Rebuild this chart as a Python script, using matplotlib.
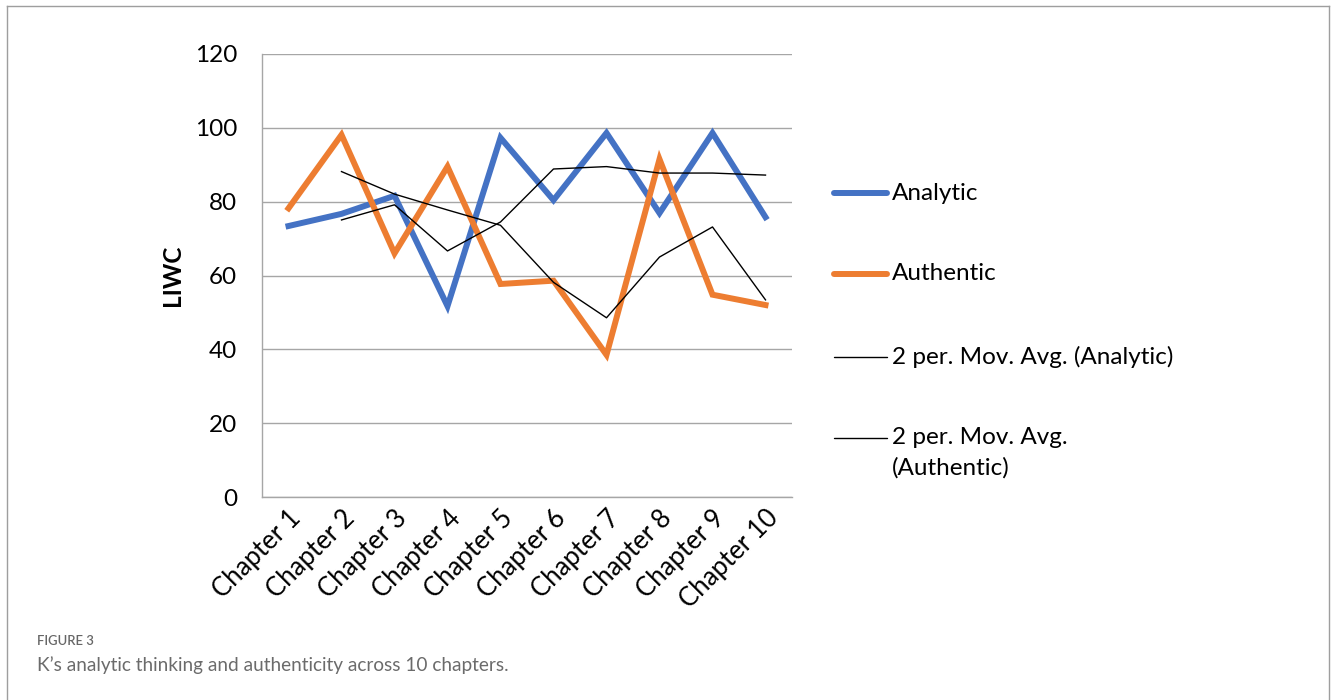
"""K's analytic thinking and authenticity across 10 chapters (LIWC)."""

import matplotlib

matplotlib.use("Agg")
import matplotlib.pyplot as plt
from matplotlib.lines import Line2D
import pandas as pd

chapters = [f"Chapter {i}" for i in range(1, 11)]
analytic = [73.4, 76.7, 81.6, 51.7, 97.3, 80.4, 98.6, 76.9, 98.6, 75.8]
authentic = [78.2, 98.1, 66.0, 89.5, 57.7, 58.6, 38.5, 91.5, 54.8, 52.0]
y_ticks = [0, 20, 40, 60, 80, 100, 120]

BLUE = "#4472C4"
ORANGE = "#ED7D31"
GRID = "#a6a6a6"
FONT = "Lato"
FS = 17.5

plt.rcParams["font.family"] = [FONT, "DejaVu Sans"]

# Excel-style 2-period moving averages
ma_analytic = pd.Series(analytic).rolling(2).mean()
ma_authentic = pd.Series(authentic).rolling(2).mean()

W, H = 1331, 700
fig = plt.figure(figsize=(W / 100, H / 100), dpi=100)
ax = fig.add_axes([262 / W, 1 - 497 / H, 530 / W, 443 / H])

x = list(range(len(chapters)))
ax.plot(x, analytic, color=BLUE, lw=4.3, solid_joinstyle="miter", zorder=3)
ax.plot(x, authentic, color=ORANGE, lw=4.3, solid_joinstyle="miter", zorder=3)
ax.plot(x, ma_analytic, color="black", lw=1.0, zorder=4)
ax.plot(x, ma_authentic, color="black", lw=1.0, zorder=4)

ax.set_xlim(-0.5, len(chapters) - 0.5)
ax.set_ylim(0, 120)
ax.set_yticks(y_ticks)
ax.set_xticks(x)
ax.set_xticklabels(chapters, rotation=45, ha="right", va="top",
                   rotation_mode="anchor", fontsize=18.5)
ax.tick_params(axis="y", labelsize=FS, length=0, pad=18)
ax.tick_params(axis="x", length=0, pad=6)
ax.yaxis.grid(True, color=GRID, lw=1.0)
ax.set_axisbelow(True)
for side in ("top", "right"):
    ax.spines[side].set_visible(False)
for side in ("left", "bottom"):
    ax.spines[side].set_color(GRID)
    ax.spines[side].set_linewidth(1.0)
ax.set_ylabel("LIWC", fontsize=FS, fontweight="bold", labelpad=8)

# legend drawn Excel-like to the right of the plot
legend_items = [
    (BLUE, 4.3, ["Analytic"], 193),
    (ORANGE, 4.3, ["Authentic"], 274),
    ("black", 1.0, ["2 per. Mov. Avg. (Analytic)"], 357),
    ("black", 1.0, ["2 per. Mov. Avg.", "(Authentic)"], 438),
]
for color, lw, lines, ypx in legend_items:
    yf = 1 - ypx / H
    fig.add_artist(Line2D([834 / W, 887 / W], [yf, yf], color=color,
                          lw=lw, solid_capstyle="round"))
    for k, line in enumerate(lines):
        fig.text(892 / W, 1 - (ypx + 30 * k) / H, line, fontsize=FS,
                 va="center", ha="left")

# outer frame (open at the bottom)
frame_kw = dict(color="#9e9e9e", lw=1.0)
top = 1 - 6 / H
fig.add_artist(Line2D([7 / W, 7 / W], [0, top], **frame_kw))
fig.add_artist(Line2D([7 / W, 1329 / W], [top, top], **frame_kw))
fig.add_artist(Line2D([1329 / W, 1329 / W], [0, top], **frame_kw))

fig.text(37 / W, 1 - 641 / H, "FIGURE 3", fontsize=9.4, color="#666666",
         fontweight="semibold", va="center", ha="left")
fig.text(37 / W, 1 - 665 / H,
         "K\u2019s analytic thinking and authenticity across 10 chapters.",
         fontsize=13.7, color="#6b6b6b", va="center", ha="left")

fig.savefig("out.png", dpi=100)
